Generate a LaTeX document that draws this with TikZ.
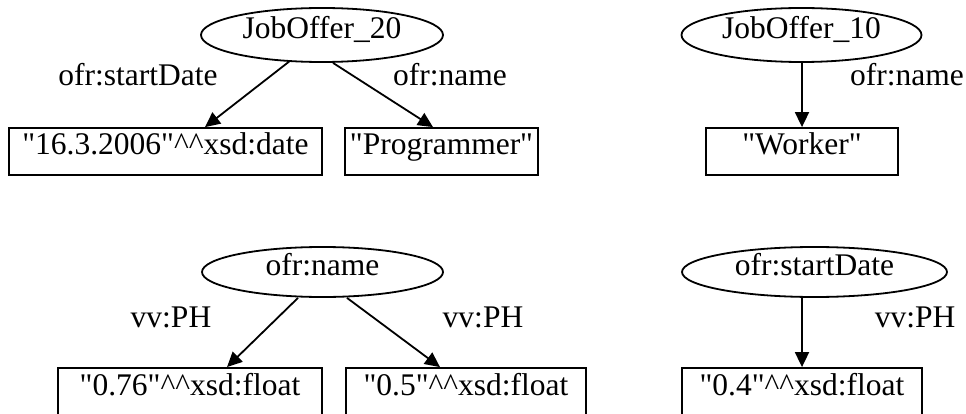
\documentclass[tikz,border=0pt]{standalone}
\usepackage{fontspec}
% straight double quotes: no TeX ligature mapping
\setmainfont{Liberation Serif}[Ligatures=TeXOff]
\usetikzlibrary{shapes.geometric,arrows.meta,calc}
\newcommand{\sq}{"}
\newcommand{\dtype}{\textasciicircum\textasciicircum}

\begin{document}
\begin{tikzpicture}[x=1pt,y=-1pt,
  font=\fontsize{31.5}{36}\selectfont,
  every node/.style={inner sep=0pt},
  res/.style={ellipse,draw,line width=1.8pt,minimum height=54pt,
    text height=0.7em,text depth=0pt},
  lit/.style={rectangle,draw,line width=1.8pt,minimum height=47pt,
    text height=0.7em,text depth=0pt},
  prop/.style={anchor=base},
  edge/.style={line width=1.8pt,-{Triangle[length=15pt,width=14pt]}}]
\useasboundingbox (0,0) rectangle (966,414);

% resources and their literal values
\node[res,minimum width=242pt] (j20) at (322,35) {JobOffer\_20};
\node[lit,minimum width=313pt] (date) at (165.5,151.5) {\sq16.3.2006\sq\dtype xsd:date};
\node[lit,minimum width=193pt] (prog) at (441.5,151.5) {\sq Programmer\sq};

\node[res,minimum width=240pt] (j10) at (801.5,35) {JobOffer\_10};
\node[lit,minimum width=192pt] (work) at (802,151.5) {\sq Worker\sq};

% properties with their weights
\node[res,minimum width=241pt,minimum height=50pt] (pname) at (322.5,272) {ofr:name};
\node[lit,minimum width=264pt] (f76) at (190,391.5) {\sq0.76\sq\dtype xsd:float};
\node[lit,minimum width=240pt] (f5) at (466,391.5) {\sq0.5\sq\dtype xsd:float};

\node[res,minimum width=265pt,minimum height=50pt] (pdate) at (814.5,272) {ofr:startDate};
\node[lit,minimum width=240pt] (f4) at (802,391.5) {\sq0.4\sq\dtype xsd:float};

% edges
\draw[edge] ($(j20.south)+(-32,-2)$) -- ($(date.north)+(39.5,0)$);
\draw[edge] ($(j20.south)+(11,0)$) -- ($(prog.north)+(-8.5,0)$);
\draw[edge] (j10.south -| work.north) -- (work.north);
\draw[edge] ($(pname.south)+(-24.5,0)$) -- ($(f76.north)+(37,0)$);
\draw[edge] ($(pname.south)+(24.5,0)$) -- ($(f5.north)+(-26,0)$);
\draw[edge] (pdate.south -| f4.north) -- (f4.north);

% edge labels
\node[prop] (l1) at (138,86) {ofr:startDate};
\node[prop] (l2) at (450,86) {ofr:name};
\node[prop,anchor=base east] (l3) at (964,86) {ofr:name};
\node[prop] (l4) at (171,327) {vv:PH};
\node[prop] (l5) at (483,327) {vv:PH};
\node[prop] (l6) at (915,327) {vv:PH};
\end{tikzpicture}
\end{document}
